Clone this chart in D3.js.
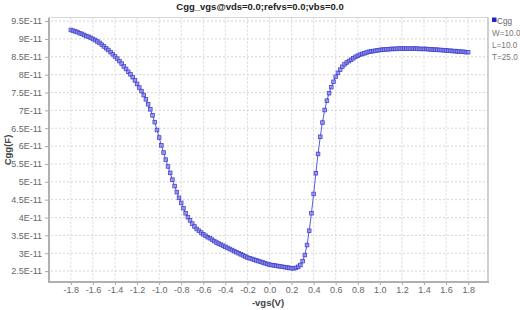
<!DOCTYPE html>
<html><head><meta charset="utf-8">
<script src="https://cdn.jsdelivr.net/npm/d3@7"></script>
<style>body{margin:0;background:#fff}svg{display:block;font-family:"Liberation Sans",Arial,sans-serif}</style>
</head><body><svg id="c" width="520" height="310"></svg>
<script>
const vgs = [-1.80,-1.78,-1.76,-1.74,-1.72,-1.70,-1.68,-1.66,-1.64,-1.62,
-1.60,-1.58,-1.56,-1.54,-1.52,-1.50,-1.48,-1.46,-1.44,-1.42,
-1.40,-1.38,-1.36,-1.34,-1.32,-1.30,-1.28,-1.26,-1.24,-1.22,
-1.20,-1.18,-1.16,-1.14,-1.12,-1.10,-1.08,-1.06,-1.04,-1.02,
-1.00,-0.98,-0.96,-0.94,-0.92,-0.90,-0.88,-0.86,-0.84,-0.82,
-0.80,-0.78,-0.76,-0.74,-0.72,-0.70,-0.68,-0.66,-0.64,-0.62,
-0.60,-0.58,-0.56,-0.54,-0.52,-0.50,-0.48,-0.46,-0.44,-0.42,
-0.40,-0.38,-0.36,-0.34,-0.32,-0.30,-0.28,-0.26,-0.24,-0.22,
-0.20,-0.18,-0.16,-0.14,-0.12,-0.10,-0.08,-0.06,-0.04,-0.02,
0.00,0.02,0.04,0.06,0.08,0.10,0.12,0.14,0.16,0.18,
0.20,0.22,0.24,0.26,0.28,0.30,0.32,0.34,0.36,0.38,
0.40,0.42,0.44,0.46,0.48,0.50,0.52,0.54,0.56,0.58,
0.60,0.62,0.64,0.66,0.68,0.70,0.72,0.74,0.76,0.78,
0.80,0.82,0.84,0.86,0.88,0.90,0.92,0.94,0.96,0.98,
1.00,1.02,1.04,1.06,1.08,1.10,1.12,1.14,1.16,1.18,
1.20,1.22,1.24,1.26,1.28,1.30,1.32,1.34,1.36,1.38,
1.40,1.42,1.44,1.46,1.48,1.50,1.52,1.54,1.56,1.58,
1.60,1.62,1.64,1.66,1.68,1.70,1.72,1.74,1.76,1.78,
1.80];
// Cgg in units of 1E-11 F
const cgg = [9.25,9.23,9.21,9.19,9.16,9.14,9.11,9.08,9.06,9.03,
9.00,8.97,8.93,8.89,8.84,8.79,8.74,8.69,8.63,8.57,
8.51,8.45,8.38,8.31,8.23,8.16,8.08,8.01,7.93,7.84,
7.74,7.64,7.54,7.43,7.31,7.17,7.03,6.86,6.67,6.45,
6.24,6.02,5.82,5.62,5.43,5.25,5.06,4.88,4.71,4.55,
4.41,4.26,4.12,4.01,3.92,3.83,3.75,3.68,3.63,3.58,
3.53,3.49,3.45,3.42,3.38,3.34,3.30,3.27,3.24,3.21,
3.18,3.15,3.12,3.09,3.06,3.03,3.00,2.97,2.94,2.91,
2.88,2.86,2.84,2.82,2.80,2.78,2.76,2.74,2.72,2.70,
2.68,2.67,2.66,2.65,2.64,2.63,2.62,2.61,2.60,2.59,
2.58,2.58,2.59,2.62,2.67,2.78,2.95,3.23,3.63,4.12,
4.66,5.24,5.78,6.26,6.66,7.01,7.27,7.48,7.65,7.80,
7.94,8.05,8.14,8.22,8.29,8.34,8.38,8.42,8.46,8.50,
8.53,8.56,8.58,8.60,8.62,8.64,8.65,8.66,8.67,8.68,
8.69,8.70,8.70,8.71,8.71,8.72,8.72,8.72,8.73,8.73,
8.73,8.73,8.73,8.73,8.73,8.73,8.73,8.73,8.72,8.72,
8.72,8.72,8.71,8.71,8.70,8.70,8.70,8.69,8.69,8.68,
8.68,8.67,8.67,8.66,8.66,8.65,8.65,8.64,8.64,8.63,
8.63];
const xTicks = [-1.8,-1.6,-1.4,-1.2,-1.0,-0.8,-0.6,-0.4,-0.2,0.0,0.2,0.4,0.6,0.8,1.0,1.2,1.4,1.6,1.8];
const yTicks = [2.5,3,3.5,4,4.5,5,5.5,6,6.5,7,7.5,8,8.5,9,9.5];
const yTickLabels = ["2.5E-11","3E-11","3.5E-11","4E-11","4.5E-11","5E-11","5.5E-11","6E-11","6.5E-11","7E-11","7.5E-11","8E-11","8.5E-11","9E-11","9.5E-11"];
const legendItems = ["W=10.0","L=10.0","T=25.0"];
const titleText = "Cgg_vgs@vds=0.0;refvs=0.0;vbs=0.0";
const seriesName = "Cgg";

const FONT = '"Liberation Sans",Arial,sans-serif';
const svg = d3.select("#c");
const L = 51, R = 488, T = 17.5, B = 282;
const x = d3.scaleLinear().domain([-1.98, 1.98]).range([L, R]);
const y = d3.scaleLinear().domain([2.195, 9.60]).range([B, T]);

// grid
const g = svg.append("g");
g.selectAll("line.vx").data(xTicks).join("line")
  .attr("x1", d => x(d)).attr("x2", d => x(d)).attr("y1", T).attr("y2", B)
  .attr("stroke", "#d6d6d6").attr("stroke-dasharray", "2,2").attr("stroke-width", 1);
g.selectAll("line.hy").data(yTicks).join("line")
  .attr("y1", d => y(d)).attr("y2", d => y(d)).attr("x1", L).attr("x2", R)
  .attr("stroke", "#d6d6d6").attr("stroke-dasharray", "2,2").attr("stroke-width", 1);
// box top/right
svg.append("line").attr("x1", L).attr("x2", R).attr("y1", T).attr("y2", T).attr("stroke", "#d8d8d8");
svg.append("line").attr("x1", R).attr("x2", R).attr("y1", T).attr("y2", B).attr("stroke", "#c0c0c0").attr("stroke-width", 1.5);

// axes
const yAxis = d3.axisLeft(y).tickValues(yTicks).tickFormat((d, i) => yTickLabels[i]).tickSize(4).tickPadding(3);
const ya = svg.append("g").attr("transform", `translate(${L - 2},0)`).call(yAxis);
ya.select(".domain").attr("stroke", "#b0b0b0").attr("stroke-width", 2).attr("d", `M0,${T}V${B + 1}`);
ya.selectAll(".tick line").attr("stroke", "#aaa");
ya.selectAll("text").attr("fill", "#666").style("font-size", "9px").style("font-family", FONT);

const xAxis = d3.axisBottom(x).tickValues(xTicks).tickFormat(d => d3.format(".1f")(d).replace("−", "-")).tickSize(3).tickPadding(2);
const xa = svg.append("g").attr("transform", `translate(0,${B})`).call(xAxis);
xa.select(".domain").attr("stroke", "#b0b0b0").attr("stroke-width", 2).attr("d", `M${L - 2},0H${R + 1}`);
xa.selectAll(".tick line").attr("stroke", "#aaa");
xa.selectAll("text").attr("fill", "#666").style("font-size", "9px").style("font-family", FONT);

// series
const data = vgs.map((v, i) => [v, cgg[i]]);
svg.append("path").datum(data)
  .attr("d", d3.line().x(d => x(d[0])).y(d => y(d[1])))
  .attr("fill", "none").attr("stroke", "#5a5ae0").attr("stroke-width", 1);
svg.selectAll("rect.m").data(data).join("rect").attr("class", "m")
  .attr("x", d => x(d[0]) - 1.8).attr("y", d => y(d[1]) - 1.8)
  .attr("width", 3.6).attr("height", 3.6)
  .attr("fill", "#9090ee").attr("fill-opacity", 0.8)
  .attr("stroke", "#4444cc").attr("stroke-width", 0.8);

// title
svg.append("text").attr("x", 260).attr("y", 10).attr("text-anchor", "middle")
  .style("font-size", "9.5px").style("font-weight", "bold").attr("fill", "#222").text(titleText);
// axis titles
svg.append("text").attr("x", 268).attr("y", 306).attr("text-anchor", "middle")
  .style("font-size", "9.5px").style("font-weight", "bold").attr("fill", "#444").text("-vgs(V)");
svg.append("text").attr("transform", "translate(11,150) rotate(-90)").attr("text-anchor", "middle")
  .style("font-size", "9.5px").style("font-weight", "bold").attr("fill", "#444").text("Cgg(F)");

// legend
svg.append("rect").attr("x", 492).attr("y", 17.5).attr("width", 4.5).attr("height", 4.5).attr("fill", "#2222cc");
svg.append("text").attr("x", 497).attr("y", 24).style("font-size", "8.2px").attr("fill", "#666").text(seriesName);
svg.selectAll("text.lg").data(legendItems).join("text").attr("class", "lg")
  .attr("x", 492).attr("y", (d, i) => 36 + i * 12).style("font-size", "8.2px").attr("fill", "#777").text(d => d);
</script></body></html>
